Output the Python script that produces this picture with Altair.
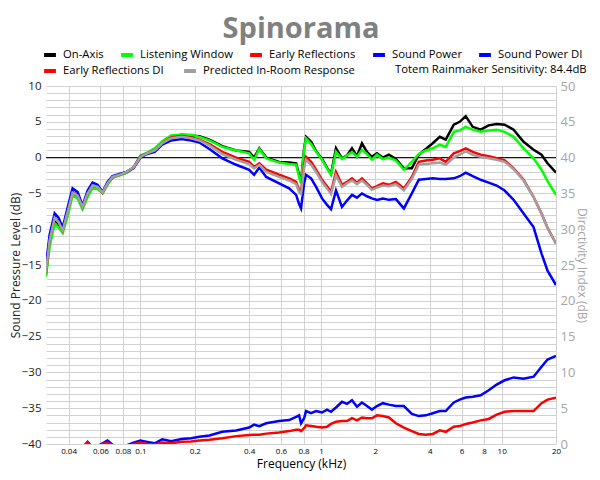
import altair as alt
import pandas as pd

# Frequencies (kHz) at which the curves were read
freq_khz = [0.030, 0.0314, 0.0335, 0.0352, 0.0371, 0.0395, 0.0421, 0.0449, 0.0478, 0.0510,
            0.0543, 0.0579, 0.0617, 0.0657, 0.0700, 0.0766, 0.0837, 0.0915, 0.100, 0.109,
            0.120, 0.132, 0.148, 0.169, 0.191, 0.212, 0.241, 0.284, 0.339, 0.400,
            0.426, 0.455, 0.497, 0.586, 0.666, 0.728, 0.756, 0.775, 0.806, 0.826,
            0.881, 0.939, 1.013, 1.079, 1.136, 1.210, 1.306, 1.392, 1.484, 1.581,
            1.685, 1.796, 1.913, 2.040, 2.200, 2.375, 2.597, 2.875, 3.183, 3.478,
            3.803, 4.157, 4.545, 4.905, 5.430, 5.861, 6.326, 6.917, 7.656, 8.477,
            9.385, 10.39, 11.65, 13.23, 15.02, 16.63, 17.95, 20.0]

on_axis = [-16.3, -11.8, -8.6, -9.3, -10.3, -7.8, -5.0, -5.4, -7.0, -5.2,
           -4.0, -4.2, -4.9, -3.7, -2.8, -2.4, -2.1, -1.4, 0.2, 0.6,
           1.1, 2.1, 3.0, 3.2, 3.1, 3.0, 2.5, 1.6, 1.0, 0.8,
           0.0, 1.3, 0.0, -0.6, -0.7, -0.8, -2.4, -3.4, 1.3, 2.9,
           2.2, 0.9, -0.2, -1.4, -2.3, 1.3, -0.1, 0.3, 1.3, 0.2,
           2.0, 0.8, 0.1, 0.6, 0.0, 0.4, -0.2, -1.5, -1.5, 0.4,
           1.2, 2.0, 2.9, 2.5, 4.6, 5.0, 5.8, 4.3, 3.9, 4.5,
           4.7, 4.6, 3.9, 2.2, 1.1, 0.4, -0.8, -2.1]

listening_window = [-16.6, -12.5, -9.2, -9.8, -10.5, -8.2, -5.3, -5.7, -7.2, -5.5,
                    -4.2, -4.4, -5.0, -3.8, -2.8, -2.5, -2.1, -1.4, 0.3, 0.7,
                    1.3, 2.3, 3.1, 3.2, 3.2, 2.9, 2.4, 1.5, 1.0, 0.6,
                    -0.3, 1.2, -0.1, -0.7, -0.9, -1.0, -2.7, -3.6, 1.1, 2.7,
                    1.9, 0.8, -0.3, -1.5, -2.4, 0.8, -0.2, 0.3, 0.8, 0.1,
                    1.1, 0.5, -0.3, 0.4, -0.2, 0.0, -0.4, -1.7, -0.6, 0.5,
                    1.0, 1.3, 1.8, 1.5, 3.6, 3.8, 4.3, 3.9, 3.6, 3.8,
                    3.9, 3.6, 2.9, 1.3, -0.1, -1.7, -3.3, -5.2]

early_reflections = [-16.0, -11.5, -8.4, -9.0, -10.2, -7.5, -4.8, -5.2, -6.9, -5.0,
                     -3.9, -4.1, -4.9, -3.6, -2.7, -2.4, -2.0, -1.4, 0.2, 0.6,
                     1.0, 2.0, 2.8, 3.0, 2.8, 2.5, 1.9, 0.8, 0.0, -0.6,
                     -1.3, -0.8, -1.7, -2.4, -2.9, -3.4, -4.5, -4.8, -1.0, 0.1,
                     -0.6, -1.7, -3.1, -4.0, -4.8, -2.0, -3.8, -3.4, -2.9, -3.5,
                     -2.9, -3.6, -4.3, -4.0, -3.6, -3.8, -3.4, -4.3, -2.7, -0.6,
                     -0.4, -0.3, -0.1, -0.6, 0.6, 0.9, 1.3, 0.8, 0.4, 0.2,
                     -0.1, -0.4, -1.5, -3.1, -5.5, -7.8, -9.8, -12.0]

sound_power = [-15.0, -10.8, -7.8, -8.4, -9.8, -7.0, -4.3, -4.8, -6.7, -4.6,
               -3.5, -3.8, -4.8, -3.4, -2.6, -2.3, -2.0, -1.5, 0.0, 0.5,
               0.8, 1.8, 2.4, 2.6, 2.4, 2.1, 1.2, -0.1, -1.0, -1.7,
               -2.4, -1.4, -2.7, -3.6, -4.3, -5.2, -6.5, -7.1, -3.6, -2.4,
               -2.9, -4.1, -5.7, -6.6, -7.2, -4.6, -6.9, -6.0, -5.2, -5.6,
               -5.0, -5.4, -5.7, -5.9, -5.7, -5.9, -5.8, -7.1, -5.0, -3.1,
               -3.0, -2.9, -3.0, -3.0, -2.9, -2.6, -2.1, -2.6, -3.1, -3.5,
               -3.9, -4.6, -5.9, -7.8, -9.7, -13.4, -15.8, -17.8]

predicted_in_room = [-16.0, -11.6, -8.4, -9.0, -10.2, -7.6, -4.9, -5.3, -6.9, -5.0,
                     -3.9, -4.1, -4.9, -3.6, -2.7, -2.4, -2.0, -1.4, 0.1, 0.6,
                     1.0, 2.0, 2.7, 2.9, 2.7, 2.4, 1.7, 0.5, -0.3, -0.9,
                     -1.5, -1.0, -2.0, -2.7, -3.2, -3.7, -4.8, -5.1, -1.4, -0.3,
                     -1.0, -2.0, -3.4, -4.3, -5.1, -2.5, -4.1, -3.6, -3.2, -3.7,
                     -3.2, -3.8, -4.5, -4.2, -3.9, -4.0, -3.7, -4.6, -3.0, -1.0,
                     -0.9, -0.8, -0.7, -1.0, 0.0, 0.4, 0.9, 0.4, 0.1, -0.1,
                     -0.3, -0.6, -1.6, -3.2, -5.5, -7.8, -9.8, -12.0]

sound_power_di = [-1.5, -1.0, -1.2, -0.8, -1.0, -0.6, -1.0, -0.5, -0.5, 0.3,
                  -0.5, -0.3, 0.1, 0.5, -0.1, -0.4, -0.2, 0.2, 0.5, 0.3,
                  0.1, 0.65, 0.4, 0.7, 0.8, 1.0, 1.2, 1.7, 1.9, 2.3,
                  2.7, 2.5, 2.9, 3.2, 3.35, 3.8, 4.0, 2.9, 3.6, 4.6,
                  4.3, 4.6, 4.4, 4.8, 4.5, 5.1, 5.9, 5.6, 6.1, 5.2,
                  5.8, 5.3, 4.8, 5.3, 5.7, 5.5, 5.3, 5.3, 4.2, 3.9,
                  4.0, 4.3, 4.6, 4.6, 5.8, 6.2, 6.5, 6.6, 6.8, 7.5,
                  8.3, 8.9, 9.3, 9.1, 9.4, 10.8, 11.8, 12.3]

early_reflections_di = [-2.0, -1.5, -1.5, -1.0, -1.2, -0.8, -1.2, -0.6, -0.5, 0.2,
                        -0.5, -0.4, 0.0, 0.2, -0.2, -0.4, -0.3, 0.0, 0.2, 0.0,
                        -0.1, 0.2, 0.1, 0.3, 0.35, 0.5, 0.6, 0.8, 1.1, 1.25,
                        1.3, 1.3, 1.45, 1.6, 1.8, 2.0, 2.0, 1.8, 2.2, 2.6,
                        2.5, 2.4, 2.3, 2.4, 2.8, 3.1, 3.2, 3.2, 3.6, 3.3,
                        3.7, 3.6, 3.6, 4.0, 3.9, 3.7, 2.9, 2.3, 1.8, 1.4,
                        1.3, 1.4, 1.9, 1.7, 2.4, 2.5, 2.8, 3.0, 3.3, 3.5,
                        4.1, 4.5, 4.6, 4.6, 4.6, 5.7, 6.2, 6.45]

legend_row1 = ["On-Axis", "Listening Window", "Early Reflections", "Sound Power", "Sound Power DI"]
legend_row1_colors = ["#000000", "#00ff00", "#ff0000", "#0000ff", "#0000ff"]
legend_row2 = ["Early Reflections DI", "Predicted In-Room Response"]
legend_row2_colors = ["#ff0000", "#a0a0a0"]

x_ticks = [0.04, 0.06, 0.08, 0.1, 0.2, 0.4, 0.6, 0.8, 1, 2, 4, 6, 8, 10, 20]
spl_ticks = list(range(-40, 11))
di_ticks = list(range(0, 51))
sensitivity_text = ["Totem Rainmaker Sensitivity: 84.4dB"]

FONT = "Open Sans"


def long_df(pairs):
    rows = []
    for name, vals in pairs:
        for f, v in zip(freq_khz, vals):
            rows.append({"freq": f, "value": v, "series": name})
    return pd.DataFrame(rows)


splA_df = long_df([("On-Axis", on_axis), ("Listening Window", listening_window),
                   ("Early Reflections", early_reflections), ("Sound Power", sound_power)])
diA_df = long_df([("Sound Power DI", sound_power_di)])
diB_df = long_df([("Early Reflections DI", early_reflections_di)])
splB_df = long_df([("Predicted In-Room Response", predicted_in_room)])


def make_legend(y, pad):
    return alt.Legend(
        title=None, orient="none", legendX=-4, legendY=y, direction="horizontal",
        symbolType="stroke", symbolStrokeWidth=4, symbolSize=140,
        labelFont=FONT, labelFontSize=11.3, labelColor="#000000",
        columnPadding=pad, labelOffset=5, labelLimit=300,
    )


colorA = alt.Color("series:N", scale=alt.Scale(domain=legend_row1, range=legend_row1_colors),
                   legend=make_legend(-39, 9))
colorB = alt.Color("series:N", scale=alt.Scale(domain=legend_row2, range=legend_row2_colors),
                   legend=make_legend(-23, 12))

x_enc = alt.X("freq:Q", scale=alt.Scale(type="log", domain=[0.03, 20]),
              axis=alt.Axis(values=x_ticks, format="~g", grid=True, gridColor="#d2d2d2",
                            ticks=False, domain=False, labelFontSize=8, labelFont=FONT,
                            labelColor="#000000", labelFlush=False, labelOverlap=False,
                            labelPadding=3, title="Frequency (kHz)", titleFont=FONT,
                            titleFontSize=12, titleFontWeight="normal", titleColor="#000000",
                            titlePadding=3))

spl_scale = alt.Scale(domain=[-40, 10], nice=False)
di_scale = alt.Scale(domain=[0, 50], nice=False)

splA = alt.Chart(splA_df).mark_line(strokeWidth=2.5, clip=True).encode(
    x=x_enc,
    y=alt.Y("value:Q", scale=spl_scale,
            axis=alt.Axis(orient="left", values=spl_ticks,
                          labelExpr="datum.value % 5 === 0 ? datum.label : ''",
                          grid=True, gridColor="#d2d2d2", ticks=False, domain=False,
                          labelOverlap=False, labelFont=FONT, labelFontSize=11.5,
                          labelColor="#222222", labelPadding=5,
                          title="Sound Pressure Level (dB)", titleFont=FONT,
                          titleFontSize=12, titleFontWeight="normal", titleColor="#222222",
                          titleAngle=270, titleAlign="center", titleBaseline="bottom",
                          titleX=-24, titleY=179)),
    color=colorA,
)

diA = alt.Chart(diA_df).mark_line(strokeWidth=2.5, clip=True).encode(
    x=x_enc,
    y=alt.Y("value:Q", scale=di_scale,
            axis=alt.Axis(orient="right", values=di_ticks,
                          labelExpr="datum.value % 5 === 0 ? datum.label : ''",
                          grid=False, ticks=False, domain=False, labelOverlap=False,
                          labelFont=FONT, labelFontSize=13, labelColor="#a6a6a6",
                          labelPadding=4, title="Directivity Index (dB)", titleFont=FONT,
                          titleFontSize=12, titleFontWeight="normal", titleColor="#a6a6a6",
                          titlePadding=0)),
    color=colorA,
)

diB = alt.Chart(diB_df).mark_line(strokeWidth=2.5, clip=True).encode(
    x=x_enc,
    y=alt.Y("value:Q", scale=di_scale, axis=None),
    color=colorB,
)

splB = alt.Chart(splB_df).mark_line(strokeWidth=2.5, clip=True).encode(
    x=x_enc,
    y=alt.Y("value:Q", scale=spl_scale, axis=None),
    color=colorB,
)

zero_rule = alt.Chart(pd.DataFrame({"y": [0]})).mark_rule(color="#000000", strokeWidth=1).encode(
    y=alt.Y("y:Q", scale=spl_scale, axis=None)
)

sens = alt.Chart(pd.DataFrame({"label": sensitivity_text})).mark_text(
    align="left", baseline="middle", font=FONT, fontSize=11.3, color="#000000"
).encode(x=alt.value(349), y=alt.value(-16), text="label:N")

layerA = alt.layer(splA, diA).resolve_scale(y="independent")
layerB = alt.layer(diB, splB).resolve_scale(y="independent")

chart = alt.layer(zero_rule, layerA, layerB, sens).resolve_scale(
    y="independent", color="independent"
).properties(
    width=510, height=358,
    title=alt.Title("Spinorama", font=FONT, fontSize=29, fontWeight="bold", color="#808080",
                    anchor="middle", offset=3),
    autosize=alt.AutoSizeParams(type="none"),
    padding={"left": 38, "top": 78, "right": 36, "bottom": 28},
).configure_view(stroke=None)

chart.save("out.html", embed_options={"renderer": "svg", "actions": False})
